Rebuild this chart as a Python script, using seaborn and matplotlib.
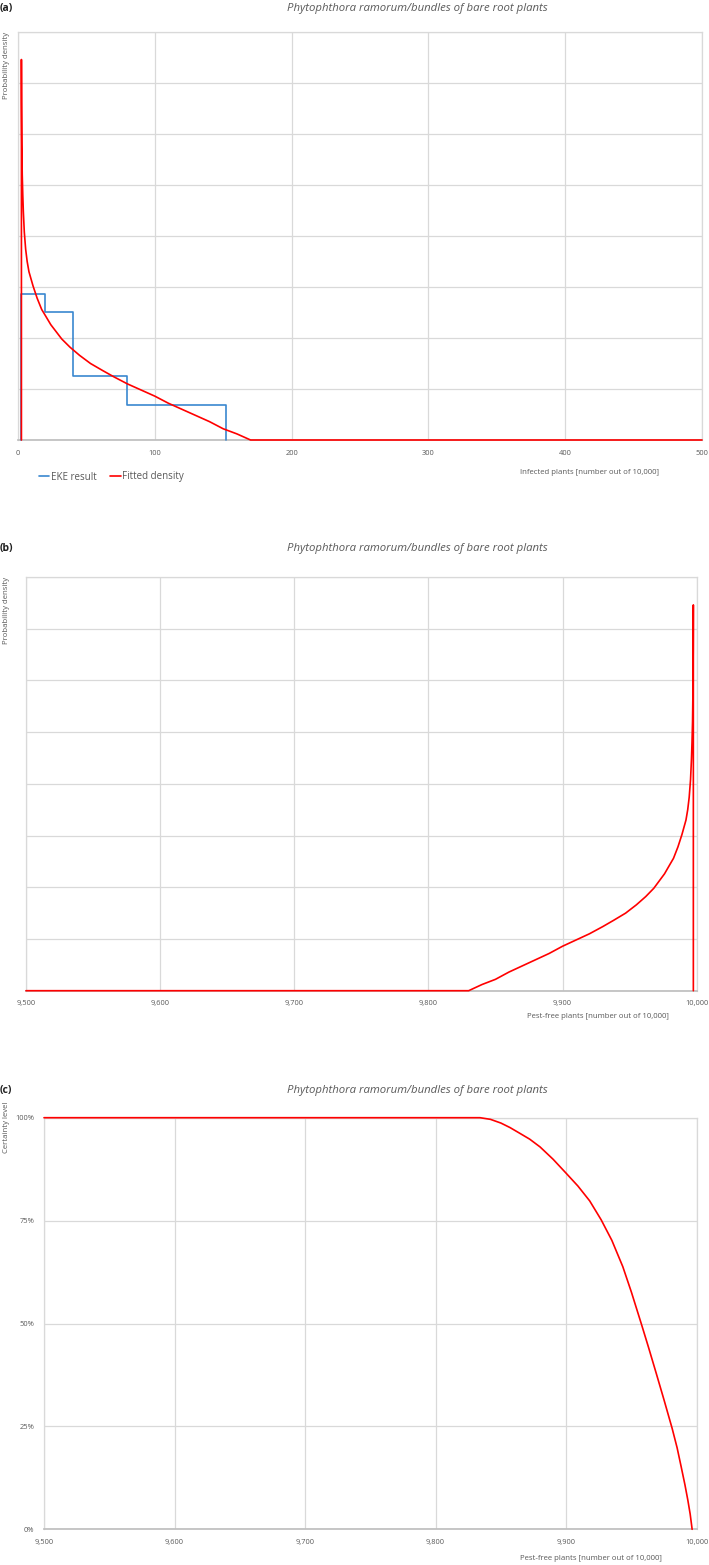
import seaborn as sns
import matplotlib.pyplot as plt
import pandas as pd

# EKE result: quantile edges (infected plants out of 10,000), equal probability per bin
eke_edges = [2.5, 20, 40, 80, 152]
eke_probs = [0.25, 0.25, 0.25, 0.25]

# fitted density (infected plants -> probability density)
infected = [2.5, 2.5, 2.6, 2.8, 3.1, 3.5, 3.9, 4.6, 5.6, 6.7, 8, 9.5, 11, 14, 17.3, 20, 24, 28, 32,
            38, 45, 53, 62, 70, 80, 90, 100, 110, 120, 130, 140, 150, 160, 170, 500]
density = [0.0, 0.0373, 0.0330, 0.0290, 0.0260, 0.0240, 0.0224, 0.0204, 0.0187, 0.0175, 0.0165,
           0.0158, 0.0151, 0.0139, 0.0128, 0.0122, 0.0113, 0.0106, 0.0099, 0.0091, 0.0083, 0.0075,
           0.0068, 0.0062, 0.0055, 0.0049, 0.0043, 0.0036, 0.0030, 0.0024, 0.0018, 0.0011, 0.0006,
           0.0, 0.0]

# certainty level curve (pest-free plants -> cumulative certainty)
pestfree = [9500, 9834, 9842, 9850, 9857, 9864, 9872, 9880, 9890, 9900, 9909, 9918, 9926.8, 9935,
            9943.4, 9950, 9957.5, 9963, 9969, 9975, 9981.2, 9985, 9988.1, 9991, 9993.2, 9995, 9996.5]
certainty = [1.0, 1.0, 0.996, 0.987, 0.976, 0.963, 0.948, 0.929, 0.899, 0.865, 0.834, 0.798, 0.752,
             0.702, 0.638, 0.576, 0.5, 0.443, 0.379, 0.314, 0.245, 0.198, 0.152, 0.108, 0.071, 0.037, 0.0]

title = "Phytophthora ramorum/bundles of bare root plants"
red = "#FF0000"
blue = "#3A87CF"
grid_c = "#D9D9D9"
txt_c = "#595959"

sns.set_theme(style="white")
plt.rcParams['font.family'] = ['Open Sans', 'DejaVu Sans']

# step outline of the EKE histogram
step_x, step_y = [eke_edges[0]], [0.0]
for i, p in enumerate(eke_probs):
    h = p / (eke_edges[i + 1] - eke_edges[i])
    step_x += [eke_edges[i], eke_edges[i + 1]]
    step_y += [h, h]
step_x.append(eke_edges[-1])
step_y.append(0.0)
eke = pd.DataFrame({"x": step_x, "y": step_y})
fit = pd.DataFrame({"x": infected, "y": density})
fit_pf = pd.DataFrame({"x": [10000 - v for v in infected], "y": density})
cert = pd.DataFrame({"x": pestfree, "y": certainty})

W, H = 709, 1565
fig = plt.figure(figsize=(W / 100, H / 100), dpi=100)


def add_ax(left, right, top, bottom):
    return fig.add_axes([left / W, 1 - bottom / H, (right - left) / W, (bottom - top) / H])


def style(ax):
    ax.grid(True, color=grid_c, lw=0.9)
    ax.set_axisbelow(True)
    for s in ["top", "right", "left"]:
        ax.spines[s].set_color(grid_c)
        ax.spines[s].set_linewidth(0.9)
    ax.spines["bottom"].set_color("#BFBFBF")
    ax.tick_params(length=0, labelsize=5.4, colors=txt_c, pad=7)
    ax.set_xlabel("")
    ax.set_ylabel("")


line_kw = dict(sort=False, estimator=None, lw=1.2, clip_on=False, zorder=4)
dens_ticks = [i * 0.005 for i in range(9)]
pf_ticks = [9500, 9600, 9700, 9800, 9900, 10000]

# (a)
ax1 = add_ax(18, 702, 32, 440)
sns.lineplot(data=eke, x="x", y="y", color=blue, ax=ax1, label="EKE result", **line_kw)
sns.lineplot(data=fit, x="x", y="y", color=red, ax=ax1, label="Fitted density", **line_kw)
ax1.set_xlim(0, 500)
ax1.set_ylim(0, 0.04)
ax1.set_xticks([0, 100, 200, 300, 400, 500])
ax1.set_yticks(dens_ticks)
ax1.set_yticklabels([])
style(ax1)
ax1.legend(loc="center left", bbox_to_anchor=(12 / 684, -37 / 408), ncol=2, frameon=False,
           fontsize=7, handlelength=1.1, handletextpad=0.15, columnspacing=1.4, labelcolor=txt_c)

# (b)
ax2 = add_ax(26, 696.7, 577, 990.7)
sns.lineplot(data=fit_pf, x="x", y="y", color=red, ax=ax2, **line_kw)
ax2.set_xlim(9500, 10000)
ax2.set_ylim(0, 0.04)
ax2.set_xticks(pf_ticks)
ax2.set_xticklabels([f"{v:,}" for v in pf_ticks])
ax2.set_yticks(dens_ticks)
ax2.set_yticklabels([])
style(ax2)

# (c)
ax3 = add_ax(44, 696.7, 1117.7, 1529.3)
sns.lineplot(data=cert, x="x", y="y", color=red, ax=ax3, **line_kw)
ax3.set_xlim(9500, 10000)
ax3.set_ylim(0, 1)
ax3.set_xticks(pf_ticks)
ax3.set_xticklabels([f"{v:,}" for v in pf_ticks])
ax3.set_yticks([0, 0.25, 0.5, 0.75, 1.0])
ax3.set_yticklabels(["0%", "25%", "50%", "75%", "100%"])
style(ax3)


# texts placed in pixel coordinates of the figure
def ftext(x, y, s, **kw):
    fig.text(x / W, 1 - y / H, s, **kw)


for tag, ty in [("(a)", 9), ("(b)", 548), ("(c)", 1091)]:
    ftext(0, ty, tag, fontsize=7.5, fontweight="bold", color="#222222", ha="left", va="center")
    ftext(417, ty, title, fontsize=8.2, style="italic", color=txt_c, ha="center", va="center")

ftext(7, 32, "Probability density", fontsize=5.6, color=txt_c, rotation=90, ha="center", va="top")
ftext(7, 577, "Probability density", fontsize=5.6, color=txt_c, rotation=90, ha="center", va="top")
ftext(7, 1102, "Certainty level", fontsize=5.6, color=txt_c, rotation=90, ha="center", va="top")

ftext(590, 472, "Infected plants [number out of 10,000]", fontsize=5.6, color=txt_c, ha="center", va="center")
ftext(598, 1017, "Pest-free plants [number out of 10,000]", fontsize=5.6, color=txt_c, ha="center", va="center")
ftext(591, 1559, "Pest-free plants [number out of 10,000]", fontsize=5.6, color=txt_c, ha="center", va="center")

fig.savefig("out.png", dpi=100)
